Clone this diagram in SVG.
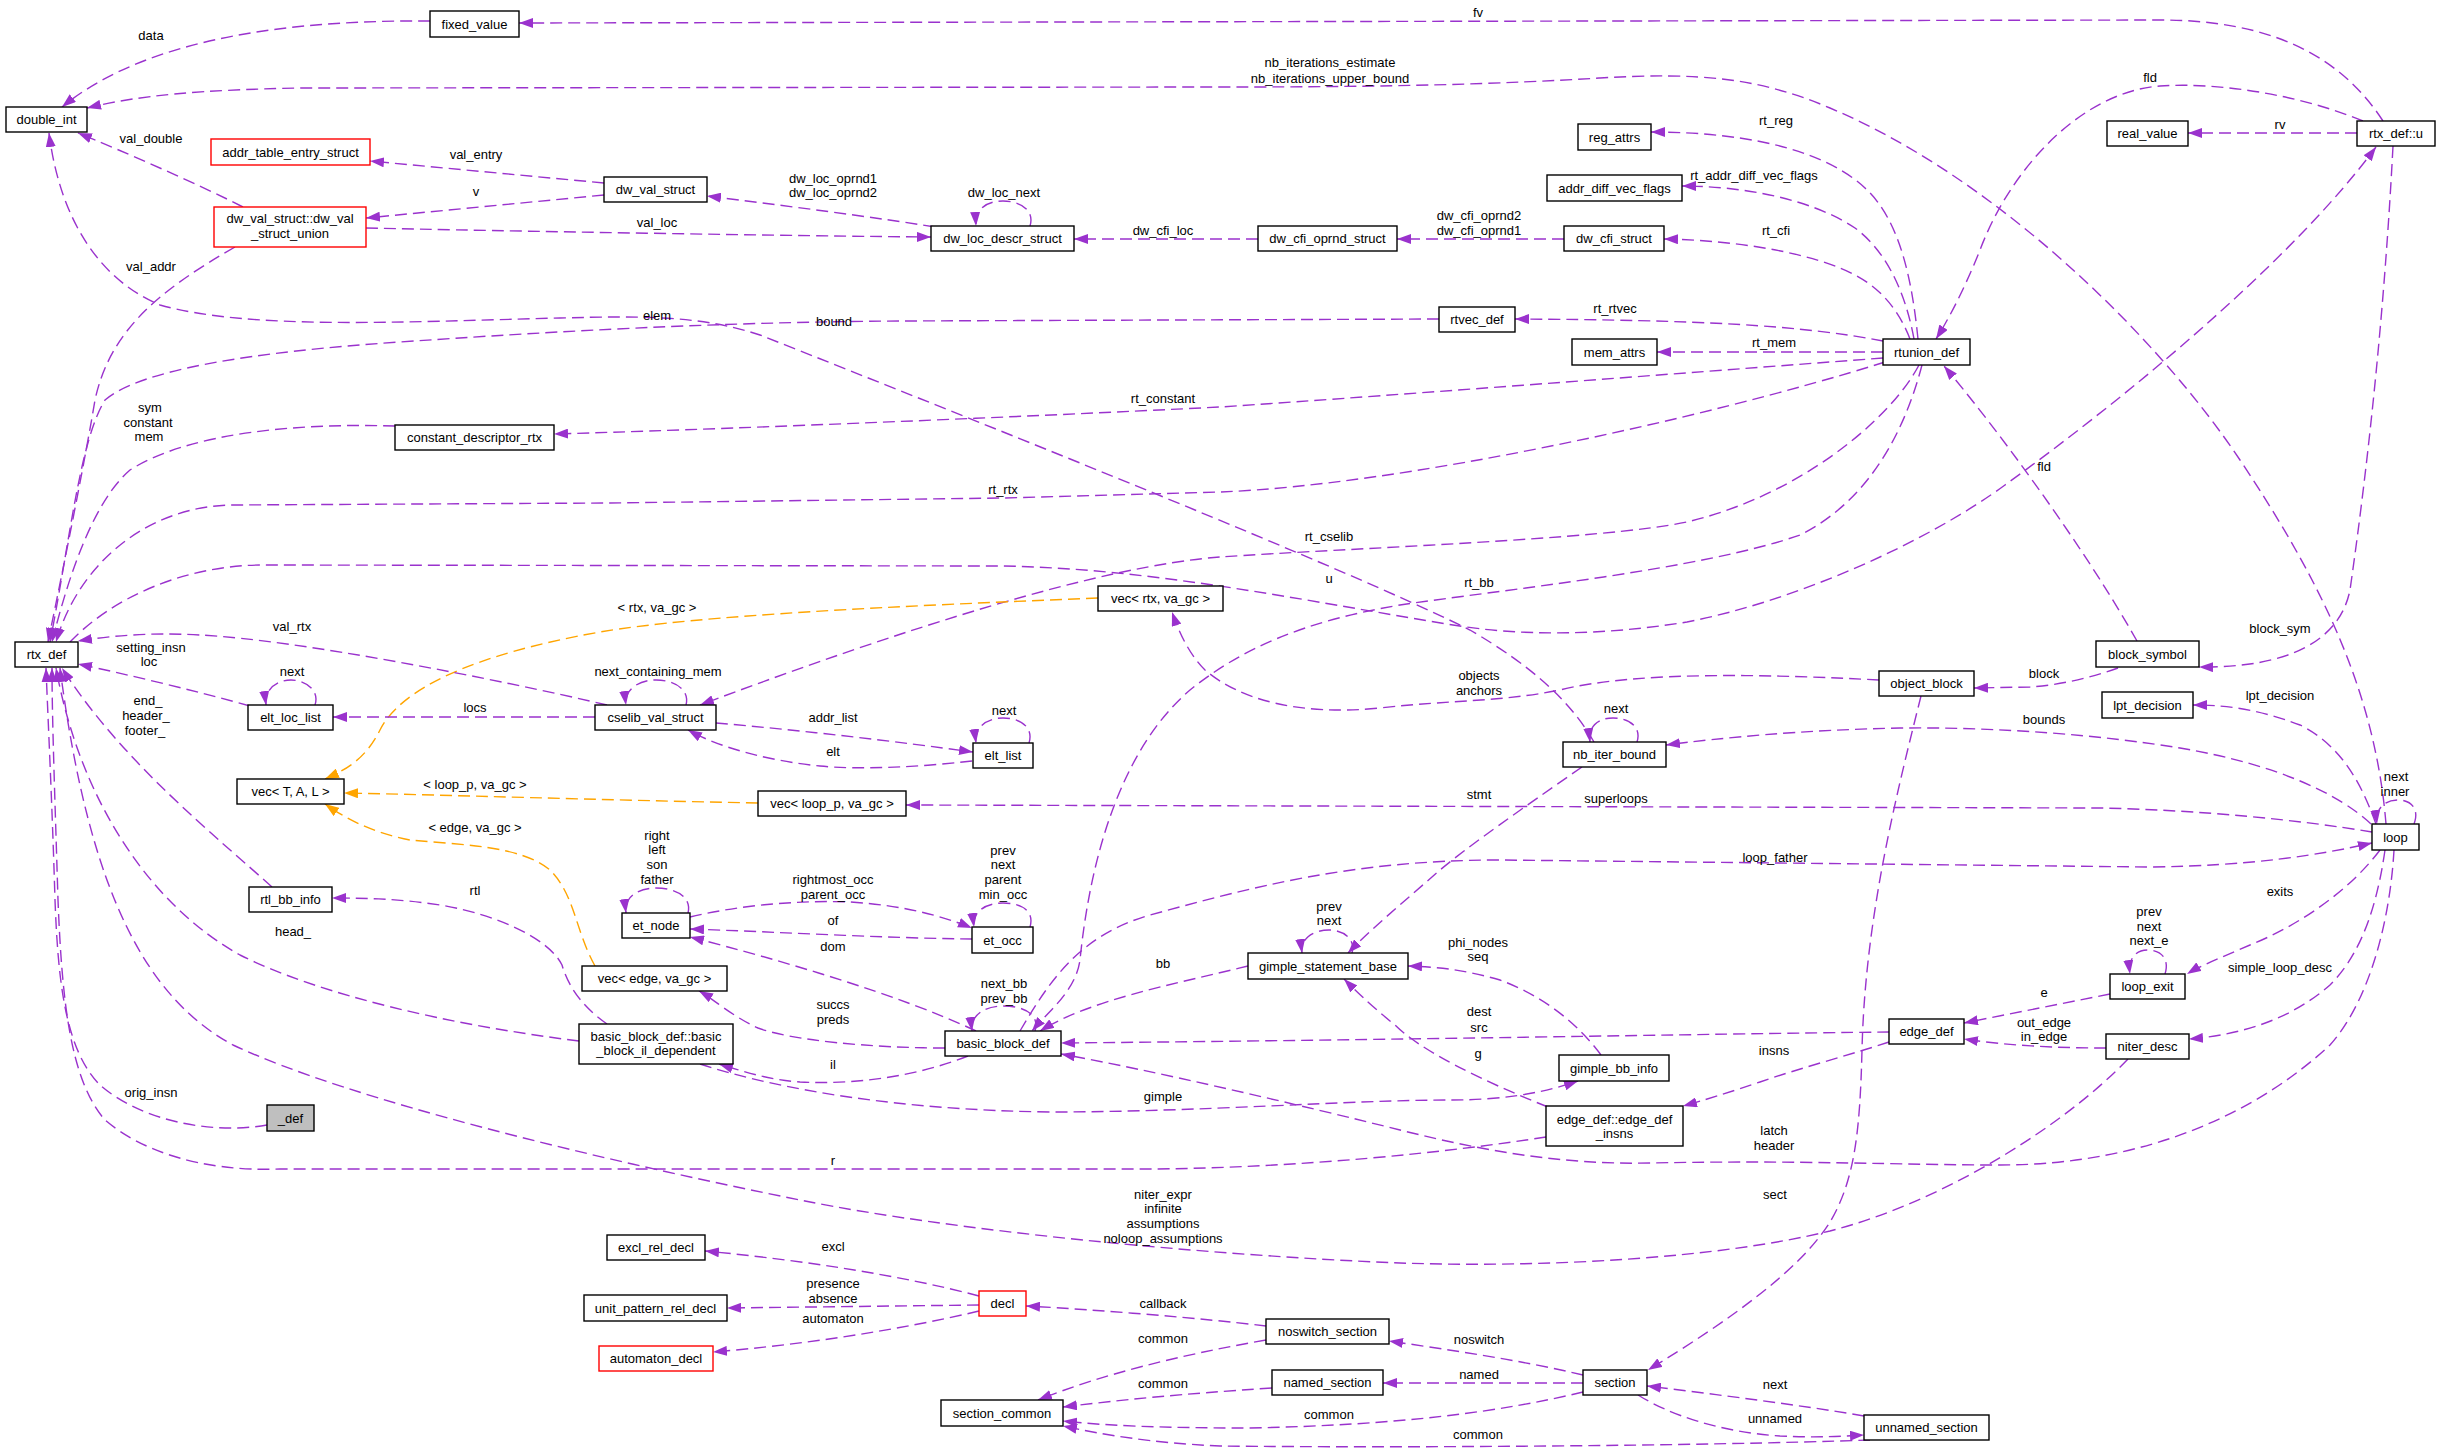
<svg xmlns="http://www.w3.org/2000/svg" width="2440" height="1453" viewBox="0 0 2440 1453">
<style>
text{font-family:"Liberation Sans",Arial,Helvetica,sans-serif;font-size:13px;text-anchor:middle;fill:#000}
.n rect{fill:#fff;stroke:#000;stroke-width:1.4}
.n.red rect{stroke:#ff0000}
.n.gray rect{fill:#bfbfbf}
.e path{fill:none;stroke:#9a32cd;stroke-width:1.4;stroke-dasharray:12 6;marker-end:url(#ap)}
.e path.o{stroke:#ffa500;marker-end:url(#ao)}
</style>
<defs>
<marker id="ap" viewBox="0 0 14 10" refX="14" refY="5" markerWidth="14" markerHeight="10" markerUnits="userSpaceOnUse" orient="auto"><path d="M0,0 L14,5 L0,10 z" fill="#9a32cd"/></marker>
<marker id="ao" viewBox="0 0 14 10" refX="14" refY="5" markerWidth="14" markerHeight="10" markerUnits="userSpaceOnUse" orient="auto"><path d="M0,0 L14,5 L0,10 z" fill="#ffa500"/></marker>
</defs>
<rect width="2440" height="1453" fill="#fff"/>
<g id="edges" class="e">
<path d="M430,21 C300,20 150,35 62,107"/>
<path d="M2383,121 C2340,55 2270,20 2160,20 L519,23"/>
<path d="M2386,824 C2375,690 2320,580 2240,460 C2160,340 2000,180 1830,108 C1760,78 1700,72 1600,78 C1500,84 1400,87 1220,87 L300,88 C200,90 140,95 87,108"/>
<path d="M243,207 C200,185 120,150 78,133"/>
<path d="M604,183 L370,161"/>
<path d="M604,195 L366,218"/>
<path d="M366,228 C500,231 800,236 931,237"/>
<path d="M935,227 C880,218 780,205 707,196"/>
<path d="M1030,226 C1035,210 1020,201 1003,201 C985,201 975,210 976,226"/>
<path d="M1258,239 L1074,239"/>
<path d="M1564,239 L1397,239"/>
<path d="M1918,339 C1912,280 1900,220 1865,188 C1830,155 1760,132 1651,132"/>
<path d="M1914,339 C1905,290 1885,250 1855,228 C1810,198 1740,186 1682,186"/>
<path d="M1910,339 C1895,300 1870,280 1840,268 C1790,248 1720,240 1664,239"/>
<path d="M1883,341 C1800,325 1700,320 1515,319"/>
<path d="M1883,352 L1657,352"/>
<path d="M1883,358 C1750,368 1400,395 1220,407 C1000,418 700,430 554,434"/>
<path d="M1885,362 C1700,420 1400,485 1220,492 L1003,498 L610,503 L230,505 C150,507 80,560 56,642"/>
<path d="M1919,365 C1890,420 1800,495 1687,522 C1600,540 1350,548 1220,557 C1100,566 900,630 700,705"/>
<path d="M1922,365 C1905,430 1870,500 1800,535 C1700,570 1500,590 1400,605 C1300,622 1240,650 1190,690 C1120,750 1090,860 1080,960 C1076,990 1050,1010 1032,1031"/>
<path d="M2363,121 C2300,95 2220,82 2160,86 C2080,92 2010,170 1980,250 C1962,295 1945,325 1936,339"/>
<path d="M2357,133 L2188,133"/>
<path d="M2393,146 C2385,300 2370,450 2350,590 C2340,640 2290,668 2199,667"/>
<path d="M2137,641 C2080,540 1990,420 1944,366"/>
<path d="M2118,668 C2090,678 2060,685 2030,687 L1974,688"/>
<path d="M70,642 C110,600 180,566 260,565 L1000,566 C1150,568 1300,600 1453,625 C1520,636 1600,636 1687,622 C1800,600 1930,540 2005,485 C2150,380 2300,250 2376,147"/>
<path d="M1879,680 C1780,675 1640,670 1560,690 C1500,702 1450,700 1380,708 C1300,716 1240,700 1205,670 C1190,655 1180,635 1172,612"/>
<path class="o" d="M1098,598 C900,606 700,615 600,632 C470,655 400,690 380,730 C365,760 345,770 325,779"/>
<path class="o" d="M758,803 C600,800 450,795 344,793"/>
<path class="o" d="M595,966 C575,930 575,895 550,870 C520,845 460,845 410,840 C370,832 345,818 325,804"/>
<path d="M395,426 C300,423 190,432 130,470 C95,500 70,570 52,642"/>
<path d="M235,247 C160,290 110,330 95,400 C85,460 65,560 48,642"/>
<path d="M1439,319 L900,321 C750,322 600,328 400,342 C250,352 140,370 105,400 C80,440 70,540 50,642"/>
<path d="M1594,742 C1570,700 1530,665 1470,630 C1350,570 1000,430 760,335 C700,315 640,316 560,318 C400,322 250,330 160,305 C100,280 60,220 49,133"/>
<path d="M250,706 C200,692 130,675 78,664"/>
<path d="M607,705 C500,680 300,640 200,635 C150,632 110,636 78,641"/>
<path d="M272,887 C220,840 120,760 62,668"/>
<path d="M579,1041 C450,1025 320,995 240,955 C150,905 80,800 56,668"/>
<path d="M1546,1137 C1450,1152 1300,1168 1150,1169 L280,1169 C200,1172 140,1150 105,1120 C70,1080 62,1000 58,900 C55,800 52,720 52,668"/>
<path d="M267,1125 C210,1135 140,1120 100,1085 C65,1050 58,980 55,900 C52,800 48,720 46,668"/>
<path d="M2128,1059 C2070,1120 1950,1200 1830,1231 C1720,1258 1550,1268 1400,1263 C1200,1255 950,1230 805,1201 C600,1160 350,1100 233,1045 C150,1000 90,900 60,668"/>
<path d="M607,1024 C580,1005 568,985 562,965 C550,940 500,915 440,905 C400,899 370,898 332,898"/>
<path d="M976,1031 C900,995 780,960 690,937"/>
<path d="M945,1048 C870,1048 790,1040 758,1028 C730,1015 715,1000 699,991"/>
<path d="M968,1056 C920,1075 860,1085 800,1082 C770,1080 745,1072 719,1064"/>
<path d="M700,1064 C780,1090 900,1110 1050,1112 C1200,1112 1350,1100 1450,1100 C1500,1100 1540,1094 1578,1081"/>
<path d="M1035,1031 C1040,1015 1025,1006 1003,1006 C985,1006 970,1015 972,1031"/>
<path d="M1248,966 C1170,985 1090,1000 1040,1031"/>
<path d="M1020,1031 C1050,980 1080,935 1150,915 C1250,888 1350,860 1500,860 L2150,867 C2250,866 2320,855 2372,843"/>
<path d="M688,913 C692,897 676,888 656,888 C638,888 624,897 626,913"/>
<path d="M690,917 C740,905 800,900 850,902 C900,905 940,915 972,928"/>
<path d="M972,939 C880,938 780,932 690,929"/>
<path d="M1030,927 C1035,910 1020,903 1003,903 C985,903 972,912 974,927"/>
<path d="M686,705 C690,690 675,680 656,680 C638,680 624,690 626,705"/>
<path d="M595,717 L333,717"/>
<path d="M315,705 C320,690 305,680 291,680 C276,680 264,690 266,705"/>
<path d="M716,723 C800,730 900,742 973,752"/>
<path d="M972,761 C920,767 860,770 820,766 C770,761 720,748 688,730"/>
<path d="M1029,743 C1034,727 1020,718 1003,718 C986,718 974,728 976,743"/>
<path d="M1352,953 C1356,938 1342,930 1329,930 C1314,930 1300,938 1302,953"/>
<path d="M1582,767 C1520,810 1470,845 1440,870 C1400,905 1370,930 1348,953"/>
<path d="M1637,742 C1642,726 1628,718 1613,718 C1598,718 1588,726 1590,742"/>
<path d="M1601,1055 C1575,1020 1540,995 1500,980 C1465,970 1440,967 1408,966"/>
<path d="M1548,1107 C1480,1080 1420,1050 1395,1025 C1370,1005 1355,990 1344,979"/>
<path d="M1889,1032 C1700,1034 1400,1040 1061,1043"/>
<path d="M1889,1042 C1850,1055 1800,1068 1760,1082 C1730,1092 1705,1100 1683,1106"/>
<path d="M2110,994 L1964,1023"/>
<path d="M2106,1048 C2060,1048 2010,1046 1964,1039"/>
<path d="M2165,974 C2170,958 2160,950 2148,950 C2136,950 2128,958 2130,974"/>
<path d="M2376,824 C2360,780 2340,745 2300,725 C2260,710 2230,705 2193,705"/>
<path d="M2371,824 C2340,795 2280,765 2180,748 C2100,735 2000,727 1900,728 C1800,730 1720,738 1666,745"/>
<path d="M2414,824 C2420,808 2410,800 2398,800 C2385,800 2375,808 2377,824"/>
<path d="M2372,832 C2300,820 2200,810 2100,808 L906,805"/>
<path d="M2394,850 C2390,920 2370,1000 2330,1045 C2260,1110 2150,1165 2000,1165 C1900,1165 1800,1160 1650,1163 C1560,1165 1480,1150 1400,1130 C1300,1105 1150,1070 1061,1054"/>
<path d="M2380,850 C2350,890 2300,925 2250,945 C2220,958 2200,966 2187,974"/>
<path d="M2385,850 C2375,920 2355,960 2330,985 C2290,1020 2240,1035 2189,1039"/>
<path d="M1921,696 C1895,800 1865,920 1862,1050 C1860,1130 1855,1180 1830,1222 C1800,1270 1730,1320 1648,1370"/>
<path d="M979,1296 C900,1275 800,1260 705,1251"/>
<path d="M979,1305 L727,1308"/>
<path d="M979,1311 C900,1330 800,1345 713,1352"/>
<path d="M1266,1326 C1200,1318 1100,1310 1026,1306"/>
<path d="M1266,1340 C1180,1355 1100,1375 1038,1400"/>
<path d="M1272,1388 C1180,1394 1120,1400 1063,1407"/>
<path d="M1583,1375 C1520,1360 1450,1350 1389,1341"/>
<path d="M1583,1383 L1383,1383"/>
<path d="M1583,1392 C1500,1412 1400,1425 1250,1428 C1150,1428 1100,1425 1063,1421"/>
<path d="M1864,1416 C1800,1405 1720,1395 1647,1386"/>
<path d="M1638,1395 C1670,1415 1720,1432 1780,1436 C1820,1438 1845,1436 1864,1435"/>
<path d="M1870,1440 C1700,1446 1400,1448 1220,1446 C1150,1443 1100,1434 1063,1426"/>
</g>
<g id="edge-labels">
<text x="151" y="40">data</text>
<text x="1478" y="17">fv</text>
<text x="1330" y="67">nb_iterations_estimate</text>
<text x="1330" y="83">nb_iterations_upper_bound</text>
<text x="151" y="143">val_double</text>
<text x="476" y="159">val_entry</text>
<text x="476" y="196">v</text>
<text x="657" y="227">val_loc</text>
<text x="833" y="183">dw_loc_oprnd1</text>
<text x="833" y="197">dw_loc_oprnd2</text>
<text x="1004" y="197">dw_loc_next</text>
<text x="1163" y="235">dw_cfi_loc</text>
<text x="1479" y="220">dw_cfi_oprnd2</text>
<text x="1479" y="235">dw_cfi_oprnd1</text>
<text x="1776" y="125">rt_reg</text>
<text x="1754" y="180">rt_addr_diff_vec_flags</text>
<text x="1776" y="235">rt_cfi</text>
<text x="2150" y="82">fld</text>
<text x="2280" y="129">rv</text>
<text x="1615" y="313">rt_rtvec</text>
<text x="1774" y="347">rt_mem</text>
<text x="657" y="320">elem</text>
<text x="834" y="326">bound</text>
<text x="1163" y="403">rt_constant</text>
<text x="150" y="412">sym</text>
<text x="148" y="427">constant</text>
<text x="149" y="441">mem</text>
<text x="151" y="271">val_addr</text>
<text x="1003" y="494">rt_rtx</text>
<text x="2044" y="471">fld</text>
<text x="1329" y="541">rt_cselib</text>
<text x="657" y="612">&lt; rtx, va_gc &gt;</text>
<text x="1329" y="583">u</text>
<text x="1479" y="587">rt_bb</text>
<text x="2280" y="633">block_sym</text>
<text x="292" y="631">val_rtx</text>
<text x="658" y="676">next_containing_mem</text>
<text x="151" y="652">setting_insn</text>
<text x="149" y="666">loc</text>
<text x="292" y="676">next</text>
<text x="475" y="712">locs</text>
<text x="1479" y="680">objects</text>
<text x="1479" y="695">anchors</text>
<text x="2044" y="678">block</text>
<text x="2280" y="700">lpt_decision</text>
<text x="833" y="722">addr_list</text>
<text x="1004" y="715">next</text>
<text x="1616" y="713">next</text>
<text x="2044" y="724">bounds</text>
<text x="148" y="705">end_</text>
<text x="146" y="720">header_</text>
<text x="145" y="735">footer_</text>
<text x="833" y="756">elt</text>
<text x="2396" y="781">next</text>
<text x="2395" y="796">inner</text>
<text x="475" y="789">&lt; loop_p, va_gc &gt;</text>
<text x="1479" y="799">stmt</text>
<text x="1616" y="803">superloops</text>
<text x="475" y="832">&lt; edge, va_gc &gt;</text>
<text x="657" y="840">right</text>
<text x="657" y="854">left</text>
<text x="657" y="869">son</text>
<text x="657" y="884">father</text>
<text x="833" y="884">rightmost_occ</text>
<text x="833" y="899">parent_occ</text>
<text x="1003" y="855">prev</text>
<text x="1003" y="869">next</text>
<text x="1003" y="884">parent</text>
<text x="1003" y="899">min_occ</text>
<text x="1775" y="862">loop_father</text>
<text x="2280" y="896">exits</text>
<text x="475" y="895">rtl</text>
<text x="293" y="936">head_</text>
<text x="833" y="925">of</text>
<text x="833" y="951">dom</text>
<text x="1329" y="911">prev</text>
<text x="1329" y="925">next</text>
<text x="1478" y="947">phi_nodes</text>
<text x="1478" y="961">seq</text>
<text x="1163" y="968">bb</text>
<text x="2149" y="916">prev</text>
<text x="2149" y="931">next</text>
<text x="2149" y="945">next_e</text>
<text x="2280" y="972">simple_loop_desc</text>
<text x="1004" y="988">next_bb</text>
<text x="1004" y="1003">prev_bb</text>
<text x="2044" y="997">e</text>
<text x="833" y="1009">succs</text>
<text x="833" y="1024">preds</text>
<text x="1479" y="1016">dest</text>
<text x="1479" y="1032">src</text>
<text x="2044" y="1027">out_edge</text>
<text x="2044" y="1041">in_edge</text>
<text x="1774" y="1055">insns</text>
<text x="1478" y="1058">g</text>
<text x="833" y="1069">il</text>
<text x="151" y="1097">orig_insn</text>
<text x="1163" y="1101">gimple</text>
<text x="1774" y="1135">latch</text>
<text x="1774" y="1150">header</text>
<text x="833" y="1165">r</text>
<text x="1163" y="1199">niter_expr</text>
<text x="1163" y="1213">infinite</text>
<text x="1163" y="1228">assumptions</text>
<text x="1163" y="1243">noloop_assumptions</text>
<text x="1775" y="1199">sect</text>
<text x="833" y="1251">excl</text>
<text x="833" y="1288">presence</text>
<text x="833" y="1303">absence</text>
<text x="1163" y="1308">callback</text>
<text x="833" y="1323">automaton</text>
<text x="1479" y="1344">noswitch</text>
<text x="1163" y="1343">common</text>
<text x="1479" y="1379">named</text>
<text x="1163" y="1388">common</text>
<text x="1775" y="1389">next</text>
<text x="1329" y="1419">common</text>
<text x="1775" y="1423">unnamed</text>
<text x="1478" y="1439">common</text>
</g>
<g id="n_fixed_value" class="n"><rect x="430" y="11" width="89" height="26"/><text x="474.5" y="28.5">fixed_value</text></g>
<g id="n_double_int" class="n"><rect x="6" y="107" width="81" height="25"/><text x="46.5" y="124">double_int</text></g>
<g id="n_addr_table_entry_struct" class="n red"><rect x="211" y="139" width="159" height="26"/><text x="290.5" y="156.5">addr_table_entry_struct</text></g>
<g id="n_dw_val_struct_union" class="n red"><rect x="214" y="207" width="152" height="40"/><text x="290" y="223">dw_val_struct::dw_val</text><text x="290" y="238">_struct_union</text></g>
<g id="n_dw_val_struct" class="n"><rect x="604" y="177" width="103" height="25"/><text x="655.5" y="194">dw_val_struct</text></g>
<g id="n_dw_loc_descr_struct" class="n"><rect x="931" y="226" width="143" height="25"/><text x="1002.5" y="243">dw_loc_descr_struct</text></g>
<g id="n_dw_cfi_oprnd_struct" class="n"><rect x="1258" y="226" width="139" height="25"/><text x="1327.5" y="243">dw_cfi_oprnd_struct</text></g>
<g id="n_dw_cfi_struct" class="n"><rect x="1564" y="226" width="100" height="25"/><text x="1614" y="243">dw_cfi_struct</text></g>
<g id="n_reg_attrs" class="n"><rect x="1578" y="124" width="73" height="26"/><text x="1614.5" y="141.5">reg_attrs</text></g>
<g id="n_addr_diff_vec_flags" class="n"><rect x="1547" y="175" width="135" height="26"/><text x="1614.5" y="192.5">addr_diff_vec_flags</text></g>
<g id="n_rtvec_def" class="n"><rect x="1439" y="307" width="76" height="25"/><text x="1477" y="324">rtvec_def</text></g>
<g id="n_mem_attrs" class="n"><rect x="1572" y="339" width="85" height="26"/><text x="1614.5" y="356.5">mem_attrs</text></g>
<g id="n_rtunion_def" class="n"><rect x="1883" y="339" width="87" height="26"/><text x="1926.5" y="356.5">rtunion_def</text></g>
<g id="n_real_value" class="n"><rect x="2107" y="121" width="81" height="25"/><text x="2147.5" y="138">real_value</text></g>
<g id="n_rtx_def_u" class="n"><rect x="2357" y="121" width="78" height="25"/><text x="2396" y="138">rtx_def::u</text></g>
<g id="n_constant_descriptor_rtx" class="n"><rect x="395" y="425" width="159" height="25"/><text x="474.5" y="442">constant_descriptor_rtx</text></g>
<g id="n_rtx_def" class="n"><rect x="15" y="642" width="63" height="25"/><text x="46.5" y="659">rtx_def</text></g>
<g id="n_vec_rtx" class="n"><rect x="1098" y="586" width="125" height="25"/><text x="1160.5" y="603">vec&lt; rtx, va_gc &gt;</text></g>
<g id="n_elt_loc_list" class="n"><rect x="248" y="705" width="85" height="25"/><text x="290.5" y="722">elt_loc_list</text></g>
<g id="n_cselib_val_struct" class="n"><rect x="595" y="705" width="121" height="25"/><text x="655.5" y="722">cselib_val_struct</text></g>
<g id="n_elt_list" class="n"><rect x="973" y="743" width="60" height="25"/><text x="1003" y="760">elt_list</text></g>
<g id="n_object_block" class="n"><rect x="1879" y="671" width="95" height="25"/><text x="1926.5" y="688">object_block</text></g>
<g id="n_block_symbol" class="n"><rect x="2096" y="641" width="103" height="26"/><text x="2147.5" y="658.5">block_symbol</text></g>
<g id="n_lpt_decision" class="n"><rect x="2102" y="692" width="91" height="26"/><text x="2147.5" y="709.5">lpt_decision</text></g>
<g id="n_nb_iter_bound" class="n"><rect x="1563" y="742" width="103" height="25"/><text x="1614.5" y="759">nb_iter_bound</text></g>
<g id="n_vec_T" class="n"><rect x="237" y="779" width="107" height="25"/><text x="290.5" y="796">vec&lt; T, A, L &gt;</text></g>
<g id="n_vec_loop_p" class="n"><rect x="758" y="791" width="148" height="25"/><text x="832" y="808">vec&lt; loop_p, va_gc &gt;</text></g>
<g id="n_loop" class="n"><rect x="2372" y="824" width="47" height="26"/><text x="2395.5" y="841.5">loop</text></g>
<g id="n_rtl_bb_info" class="n"><rect x="249" y="887" width="83" height="25"/><text x="290.5" y="904">rtl_bb_info</text></g>
<g id="n_et_node" class="n"><rect x="622" y="913" width="68" height="25"/><text x="656" y="930">et_node</text></g>
<g id="n_et_occ" class="n"><rect x="972" y="927" width="61" height="26"/><text x="1002.5" y="944.5">et_occ</text></g>
<g id="n_gimple_statement_base" class="n"><rect x="1248" y="953" width="160" height="26"/><text x="1328" y="970.5">gimple_statement_base</text></g>
<g id="n_loop_exit" class="n"><rect x="2110" y="974" width="75" height="25"/><text x="2147.5" y="991">loop_exit</text></g>
<g id="n_vec_edge" class="n"><rect x="582" y="966" width="145" height="25"/><text x="654.5" y="983">vec&lt; edge, va_gc &gt;</text></g>
<g id="n_basic_block_il_dependent" class="n"><rect x="579" y="1024" width="154" height="40"/><text x="656" y="1041">basic_block_def::basic</text><text x="656" y="1055">_block_il_dependent</text></g>
<g id="n_basic_block_def" class="n"><rect x="945" y="1031" width="116" height="25"/><text x="1003" y="1048">basic_block_def</text></g>
<g id="n_edge_def" class="n"><rect x="1889" y="1019" width="75" height="25"/><text x="1926.5" y="1036">edge_def</text></g>
<g id="n_niter_desc" class="n"><rect x="2106" y="1034" width="83" height="25"/><text x="2147.5" y="1051">niter_desc</text></g>
<g id="n_gimple_bb_info" class="n"><rect x="1559" y="1055" width="110" height="26"/><text x="1614" y="1072.5">gimple_bb_info</text></g>
<g id="n__def" class="n gray"><rect x="267" y="1105" width="47" height="26"/><text x="290.5" y="1122.5">_def</text></g>
<g id="n_edge_def_insns" class="n"><rect x="1546" y="1106" width="137" height="40"/><text x="1614.5" y="1124">edge_def::edge_def</text><text x="1614.5" y="1138">_insns</text></g>
<g id="n_excl_rel_decl" class="n"><rect x="607" y="1235" width="98" height="25"/><text x="656" y="1252">excl_rel_decl</text></g>
<g id="n_unit_pattern_rel_decl" class="n"><rect x="584" y="1295" width="143" height="26"/><text x="655.5" y="1312.5">unit_pattern_rel_decl</text></g>
<g id="n_decl" class="n red"><rect x="979" y="1291" width="47" height="25"/><text x="1002.5" y="1308">decl</text></g>
<g id="n_automaton_decl" class="n red"><rect x="599" y="1346" width="114" height="25"/><text x="656" y="1363">automaton_decl</text></g>
<g id="n_noswitch_section" class="n"><rect x="1266" y="1319" width="123" height="25"/><text x="1327.5" y="1336">noswitch_section</text></g>
<g id="n_named_section" class="n"><rect x="1272" y="1370" width="111" height="25"/><text x="1327.5" y="1387">named_section</text></g>
<g id="n_section" class="n"><rect x="1583" y="1370" width="64" height="25"/><text x="1615" y="1387">section</text></g>
<g id="n_section_common" class="n"><rect x="941" y="1400" width="122" height="26"/><text x="1002" y="1417.5">section_common</text></g>
<g id="n_unnamed_section" class="n"><rect x="1864" y="1415" width="125" height="25"/><text x="1926.5" y="1432">unnamed_section</text></g>
</svg>
